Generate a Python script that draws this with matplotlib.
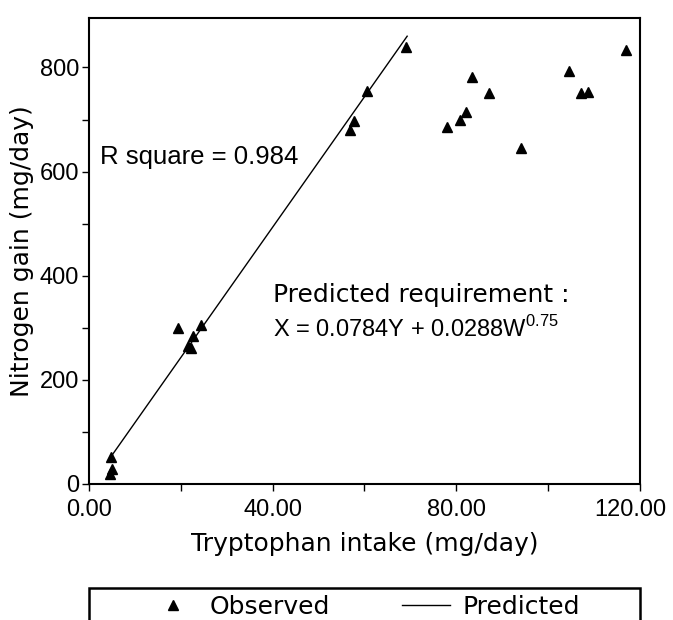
import matplotlib
matplotlib.use("Agg")
import matplotlib.pyplot as plt
import matplotlib.transforms as mtransforms
from matplotlib.patches import Rectangle
from matplotlib.ticker import MultipleLocator, FormatStrFormatter

plt.rcParams["font.family"] = ["Liberation Sans", "DejaVu Sans"]
plt.rcParams["mathtext.fontset"] = "custom"
plt.rcParams["mathtext.rm"] = "Liberation Sans"

WIDE = ["DejaVu Sans"]  # the wide-spaced font used for labels / legend

# ---------- data ----------
obs_x = [4.8, 5.0, 4.6, 19.4, 21.6, 22.2, 22.7, 24.4, 56.9, 57.7, 60.6, 69.0,
         78.0, 80.8, 82.1, 83.4, 87.1, 94.1, 104.6, 107.2, 108.7, 117.0]
obs_y = [52, 29, 19, 299, 265, 261, 284, 305, 679, 698, 754, 840,
         685, 700, 714, 781, 750, 645, 793, 750, 752, 833]

# fitted line (two ends)
pred_x = [4.6, 69.3]
pred_y = [50, 860]

r_square = 0.984

# ---------- plot ----------
fig = plt.figure(figsize=(6.73, 6.2), dpi=100)
ax = fig.add_axes([0.1322, 0.2194, 0.8187, 0.7516])

obs, = ax.plot(obs_x, obs_y, linestyle="none", marker="^", ms=7.5,
               color="black", label="Observed")
pred, = ax.plot(pred_x, pred_y, color="black", lw=1.0, label="Predicted")

ax.set_xlim(0, 120)
ax.set_ylim(0, 895)
ax.xaxis.set_major_locator(MultipleLocator(40))
ax.xaxis.set_minor_locator(MultipleLocator(20))
ax.xaxis.set_major_formatter(FormatStrFormatter("%.2f"))
ax.yaxis.set_major_locator(MultipleLocator(200))
ax.yaxis.set_minor_locator(MultipleLocator(100))

ax.tick_params(which="both", direction="out", length=5, width=1, labelsize=17)
ax.tick_params(axis="x", pad=6)
ax.tick_params(axis="y", pad=2)
for s in ax.spines.values():
    s.set_linewidth(1.5)

ax.set_xlabel("Tryptophan intake (mg/day)", fontsize=18, family=WIDE, labelpad=8)
ax.set_ylabel("Nitrogen gain (mg/day)", fontsize=18, family=WIDE, labelpad=4)

ax.text(2.3, 628, f"R square = {r_square:.3f}", fontsize=18.5, va="center")
ax.text(40.0, 362, "Predicted requirement :", fontsize=18, family=WIDE, va="center")
ax.text(40.0, 298, r"X = 0.0784Y + 0.0288W$^{0.75}$", fontsize=17, va="center")

# legend box below the axes, cut by the figure edge
fig.patches.append(Rectangle((0.1322, -0.03), 0.8187, 0.0816, transform=fig.transFigure,
                             fill=False, lw=1.8, edgecolor="black"))
fig.legend(handles=[obs, pred], loc="center", bbox_to_anchor=(0.5416, 1 - 607 / 620),
           ncol=2, frameon=False, prop={"family": WIDE, "size": 18},
           columnspacing=2.9, handlelength=1.9, handletextpad=0.5)

# the last x tick label sits against the right edge; nudge it left a little
fig.canvas.draw()
for lab in ax.get_xticklabels():
    if lab.get_text() == "120.00":
        shift = mtransforms.ScaledTranslation(-7 / 72, 0, fig.dpi_scale_trans)
        lab.set_transform(lab.get_transform() + shift)

fig.savefig("out.png", dpi=100)
